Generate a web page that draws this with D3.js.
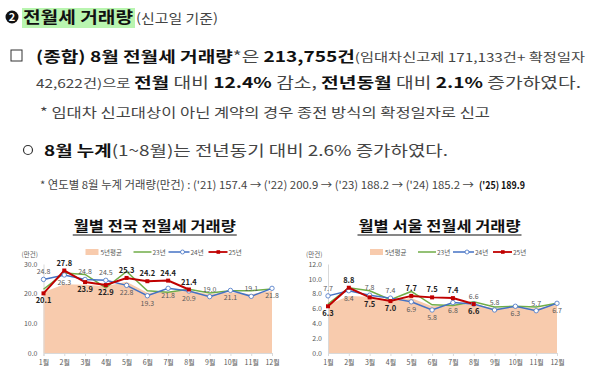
<!DOCTYPE html>
<html>
<head>
<meta charset="utf-8">
<script src="https://cdn.jsdelivr.net/npm/d3@7"></script>
<style>
  body { margin: 0; background: #fff; }
  svg { display: block; }
  text { font-family: 'Noto Sans CJK KR', 'Noto Sans', sans-serif; }
</style>
</head>
<body>
<svg width="589" height="385"></svg>
<script>
// values
var months = ['1월','2월','3월','4월','5월','6월','7월','8월','9월','10월','11월','12월'];

var natAvg5 = [20.5, 23.2, 23.0, 22.5, 24.0, 20.3, 20.6, 21.0, 19.8, 20.5, 19.8, 21.0];
var natY23  = [21.5, 27.0, 26.5, 22.0, 27.5, 21.0, 20.5, 21.5, 20.2, 21.0, 21.0, 21.6];
var natY24  = [24.8, 26.3, 24.8, 24.5, 22.8, 19.3, 21.8, 20.9, 19.0, 21.1, 19.1, 21.8];
var natY25  = [20.1, 27.8, 23.9, 22.9, 25.3, 24.2, 24.4, 21.4];

var seoulAvg5 = [6.5, 7.7, 7.6, 7.1, 7.4, 6.3, 6.5, 6.6, 6.0, 6.2, 6.0, 6.5];
var seoulY23  = [6.6, 8.8, 8.4, 7.2, 8.3, 6.5, 6.4, 6.9, 6.2, 6.3, 6.2, 6.7];
var seoulY24  = [7.7, 8.4, 7.8, 7.4, 6.9, 5.8, 6.8, 6.6, 5.8, 6.3, 5.7, 6.7];
var seoulY25  = [6.3, 8.8, 7.5, 7.0, 7.7, 7.5, 7.4, 6.6];

// label side for each point: a = above, b = below
var natSide24 = 'abaabbbbabab'.split('');
var natSide25 = 'babbaaaa'.split('');
var seoulSide24 = 'abaabbbaabab'.split('');
var seoulSide25 = 'babbaaab'.split('');

var legendNames = ['5년평균', '23년', '24년', '25년'];

var svg = d3.select('svg');

var C = { avg: '#f8cbad', y23: '#70ad47', y24: '#4472c4', y25: '#c00000', axis: '#595959' };

// ---------- text block ----------
var txt = svg.append('g').attr('class', 'memo');

function line(x, y, w, size, parts) {
  var t = txt.append('text')
      .attr('x', x).attr('y', y)
      .attr('textLength', w).attr('lengthAdjust', 'spacingAndGlyphs')
      .style('font-size', size + 'px');
  parts.forEach(function(p){
    t.append('tspan')
      .text(p[0])
      .style('font-weight', p[1] ? 700 : 400)
      .style('fill', p[1] ? '#111' : '#444')
      .style('font-size', (p[2] || size) + 'px');
  });
  return t;
}

// numbered bullet
txt.append('circle').attr('cx', 12).attr('cy', 17).attr('r', 6.5).attr('fill', '#111');
txt.append('text').attr('x', 12).attr('y', 21).attr('text-anchor', 'middle').text('2')
  .style('font-size', '11px').style('font-weight', 700).style('fill', '#fff');

txt.append('rect').attr('x', 22).attr('y', 8).attr('width', 113).attr('height', 20).attr('fill', '#b9f5b0');
line(23, 23, 110, 16, [['전월세 거래량', true]]);
line(136, 23, 82, 13, [['(신고일 기준)', false]]);

txt.append('rect').attr('x', 11).attr('y', 50).attr('width', 11).attr('height', 11)
  .attr('fill', 'none').attr('stroke', '#333').attr('stroke-width', 1);
line(36, 62, 549, 15, [['(종합) 8월 전월세 거래량', true], ['*은 ', false], ['213,755건', true],
  ['(임대차신고제 171,133건+ 확정일자', false, 12]]);
line(36, 88, 545, 15, [['42,622건)으로 ', false, 12], ['전월', true], [' 대비 ', false], ['12.4%', true],
  [' 감소, ', false], ['전년동월', true], [' 대비 ', false], ['2.1%', true], [' 증가하였다.', false]]);
line(40, 117, 450, 13, [['* 임대차 신고대상이 아닌 계약의 경우 종전 방식의 확정일자로 신고', false]]);

txt.append('circle').attr('cx', 28).attr('cy', 150).attr('r', 4.5)
  .attr('fill', 'none').attr('stroke', '#333').attr('stroke-width', 1.2);
line(44, 156, 404, 15, [['8월 누계', true], ['(1~8월)는 전년동기 대비 2.6% 증가하였다.', false]]);
line(40, 189, 434, 11, [['* 연도별 8월 누계 거래량(만건) : (\'21) 157.4 → (\'22) 200.9 → (\'23) 188.2 → (\'24) 185.2 →', false]]);
line(479, 189, 46, 10, [['(\'25) 189.9', true]]);

// ---------- charts ----------
function drawChart(opt) {
  var g = svg.append('g');

  var x = d3.scalePoint().domain(months).range([opt.x0, opt.x1]);
  var y = d3.scaleLinear().domain([0, opt.max]).range([353, 264]);
  var mid = (opt.x0 + opt.x1) / 2 - 3;

  // title
  g.append('text').attr('x', mid).attr('y', 231).attr('text-anchor', 'middle')
    .attr('textLength', 162).attr('lengthAdjust', 'spacingAndGlyphs')
    .style('font-size', '14px').style('font-weight', 700).style('fill', '#111')
    .text(opt.title);
  g.append('line').attr('x1', mid - 82).attr('x2', mid + 82).attr('y1', 235).attr('y2', 235)
    .attr('stroke', '#111').attr('stroke-width', 1.2);

  // legend
  var ly = 252, lx = opt.x0;
  var lg = g.append('g').style('font-size', '6.5px').style('fill', C.axis);
  lg.append('rect').attr('x', lx + 42).attr('y', ly - 3).attr('width', 13).attr('height', 6).attr('fill', C.avg);
  lg.append('text').attr('x', lx + 57).attr('y', ly + 2.5).text(legendNames[0]);
  lg.append('line').attr('x1', lx + 90).attr('x2', lx + 108).attr('y1', ly).attr('y2', ly)
    .attr('stroke', C.y23).attr('stroke-width', 1.5);
  lg.append('text').attr('x', lx + 109).attr('y', ly + 2.5).text(legendNames[1]);
  lg.append('line').attr('x1', lx + 125).attr('x2', lx + 146).attr('y1', ly).attr('y2', ly)
    .attr('stroke', C.y24).attr('stroke-width', 1.5);
  lg.append('circle').attr('cx', lx + 139).attr('cy', ly).attr('r', 2).attr('fill', '#fff')
    .attr('stroke', C.y24).attr('stroke-width', 0.8);
  lg.append('text').attr('x', lx + 147).attr('y', ly + 2.5).text(legendNames[2]);
  lg.append('line').attr('x1', lx + 165).attr('x2', lx + 184).attr('y1', ly).attr('y2', ly)
    .attr('stroke', C.y25).attr('stroke-width', 1.8);
  lg.append('rect').attr('x', lx + 173).attr('y', ly - 1.8).attr('width', 3.6).attr('height', 3.6).attr('fill', C.y25);
  lg.append('text').attr('x', lx + 185).attr('y', ly + 2.5).text(legendNames[3]);

  g.append('text').attr('x', opt.x0 - 22).attr('y', 257).text('(만건)')
    .style('font-size', '6.5px').style('fill', C.axis);

  // area
  g.append('path').datum(opt.avg)
    .attr('fill', C.avg)
    .attr('d', d3.area().x(function(d, i){ return x(months[i]); }).y0(y(0)).y1(function(d){ return y(d); }));

  // axes
  var yAxis = g.append('g').attr('transform', 'translate(' + opt.x0 + ',0)')
    .call(d3.axisLeft(y).ticks(opt.ticks).tickFormat(d3.format('.1f')).tickSize(0).tickPadding(6));
  yAxis.select('.domain').attr('stroke', '#d9d9d9');
  yAxis.selectAll('text').style('font-size', '7px').style('fill', C.axis)
    .style('font-family', "'Noto Sans CJK KR', sans-serif");

  var xAxis = g.append('g').attr('transform', 'translate(0,353)')
    .call(d3.axisBottom(x).tickSize(3).tickPadding(4));
  xAxis.select('.domain').attr('stroke', '#d9d9d9');
  xAxis.selectAll('line').attr('stroke', '#d9d9d9');
  xAxis.selectAll('text').style('font-size', '7px').style('fill', C.axis)
    .style('font-family', "'Noto Sans CJK KR', sans-serif");

  var ln = d3.line().x(function(d, i){ return x(months[i]); }).y(function(d){ return y(d); });

  g.append('path').datum(opt.y23).attr('fill', 'none').attr('stroke', C.y23).attr('stroke-width', 1.5).attr('d', ln);
  g.append('path').datum(opt.y24).attr('fill', 'none').attr('stroke', C.y24).attr('stroke-width', 1.5).attr('d', ln);
  g.append('path').datum(opt.y25).attr('fill', 'none').attr('stroke', C.y25).attr('stroke-width', 2).attr('d', ln);

  g.selectAll('.m24').data(opt.y24).enter().append('circle')
    .attr('cx', function(d, i){ return x(months[i]); })
    .attr('cy', function(d){ return y(d); })
    .attr('r', 2.2).attr('fill', '#fff').attr('stroke', C.y24).attr('stroke-width', 0.8);
  g.selectAll('.m25').data(opt.y25).enter().append('rect')
    .attr('x', function(d, i){ return x(months[i]) - 2; })
    .attr('y', function(d){ return y(d) - 2; })
    .attr('width', 4).attr('height', 4).attr('fill', C.y25);

  g.selectAll('.l24').data(opt.y24).enter().append('text')
    .attr('x', function(d, i){ return x(months[i]); })
    .attr('y', function(d, i){ return y(d) + (opt.side24[i] === 'a' ? -5 : 10); })
    .attr('text-anchor', 'middle')
    .style('font-size', '7px').style('fill', C.axis)
    .text(function(d){ return d3.format('.1f')(d); });
  g.selectAll('.l25').data(opt.y25).enter().append('text')
    .attr('x', function(d, i){ return x(months[i]); })
    .attr('y', function(d, i){ return y(d) + (opt.side25[i] === 'a' ? -5 : 10); })
    .attr('text-anchor', 'middle')
    .style('font-size', '7.5px').style('font-weight', 700).style('fill', '#222')
    .text(function(d){ return d3.format('.1f')(d); });
}

drawChart({ title: '월별 전국 전월세 거래량', x0: 43.5, x1: 272, max: 30, ticks: 3,
  avg: natAvg5, y23: natY23, y24: natY24, y25: natY25, side24: natSide24, side25: natSide25 });
drawChart({ title: '월별 서울 전월세 거래량', x0: 328, x1: 557, max: 12, ticks: 4,
  avg: seoulAvg5, y23: seoulY23, y24: seoulY24, y25: seoulY25, side24: seoulSide24, side25: seoulSide25 });
</script>
</body>
</html>
